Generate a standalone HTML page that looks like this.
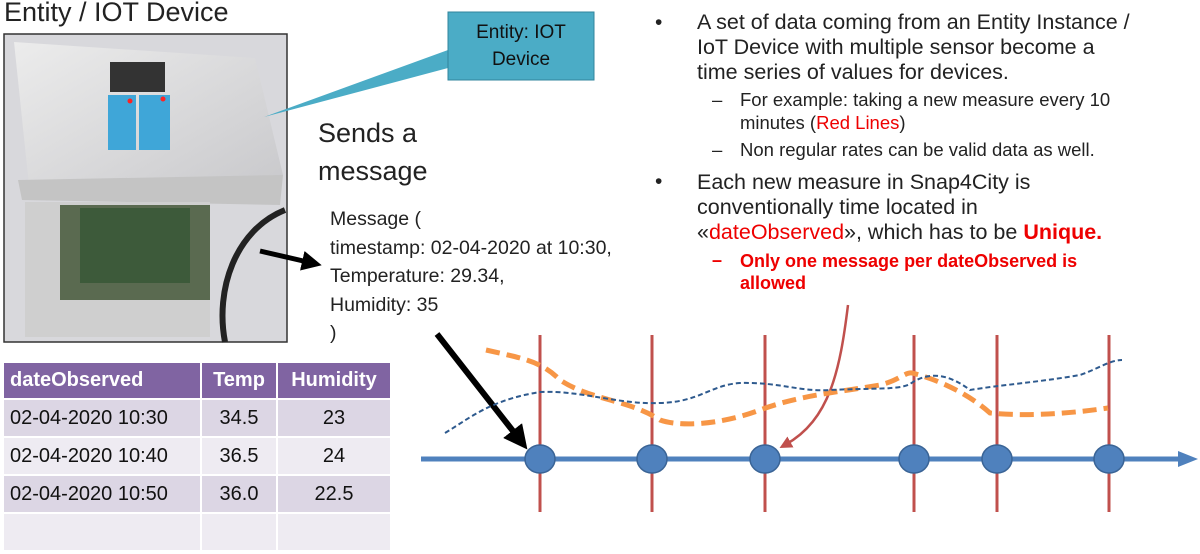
<!DOCTYPE html>
<html><head><style>
body{margin:0;width:1200px;height:554px;background:#fff;overflow:hidden;position:relative;font-family:"Liberation Sans",sans-serif;}
.t{position:absolute;white-space:nowrap;color:#222;}
table{position:absolute;left:2px;top:361px;border-collapse:collapse;font-size:20px;table-layout:fixed;}
td{border:2px solid #fff;height:34px;padding:0 6px;color:#111;box-sizing:border-box;overflow:hidden;white-space:nowrap;}
</style></head><body>
<div class="t" style="left:4px;top:-3px;font-size:27px;">Entity / IOT Device</div>
<svg width="1200" height="554" style="position:absolute;left:0;top:0">
<defs>
<linearGradient id="g" x1="0" y1="0" x2="1" y2="1"><stop offset="0" stop-color="#ececec"/><stop offset="1" stop-color="#c8c8cb"/></linearGradient>
<marker id="ab" markerWidth="4" markerHeight="4" refX="2" refY="2" orient="auto"><path d="M0,0L4,2L0,4z" fill="#000"/></marker>
<marker id="ar" markerWidth="5" markerHeight="5" refX="2.5" refY="2.5" orient="auto"><path d="M0,0L5,2.5L0,5z" fill="#c0504d"/></marker>
</defs>
<rect x="4" y="34" width="283" height="308" fill="#d8d8dc" stroke="#333" stroke-width="1.5"/>
<path d="M14,42 L255,58 L283,175 L30,195 Z" fill="url(#g)"/>
<path d="M18,180 L283,175 L280,205 L22,200Z" fill="#c4c4c4"/>
<rect x="25" y="202" width="185" height="135" fill="#cfcfcf"/>
<rect x="60" y="205" width="150" height="95" fill="#5a6a50"/>
<rect x="80" y="208" width="110" height="75" fill="#3d5a3a"/>
<path d="M285,210 C235,230 215,290 225,342" stroke="#222" stroke-width="6" fill="none"/>
<rect x="108" y="95" width="28" height="55" fill="#3fa6d8"/><rect x="139" y="95" width="31" height="55" fill="#3fa6d8"/>
<rect x="110" y="62" width="55" height="30" fill="#333"/>
<circle cx="130" cy="101" r="2.5" fill="#f22"/><circle cx="163" cy="99" r="2.5" fill="#f22"/>
<polygon points="448,50 448,68 264,117" fill="#4bacc6"/>
<rect x="448" y="12" width="146" height="68" fill="#4bacc6" stroke="#31859c" stroke-width="1"/>
<text x="521" y="38" font-size="19" text-anchor="middle" fill="#111" font-family="Liberation Sans">Entity: IOT</text>
<text x="521" y="65" font-size="19" text-anchor="middle" fill="#111" font-family="Liberation Sans">Device</text>
<line x1="260" y1="251" x2="312" y2="263" stroke="#000" stroke-width="5" marker-end="url(#ab)"/>
<line x1="437" y1="334" x2="520" y2="440" stroke="#000" stroke-width="6" marker-end="url(#ab)"/>
<g stroke="#c0504d" stroke-width="3">
<line x1="540" y1="335" x2="540" y2="512"/><line x1="652" y1="335" x2="652" y2="512"/><line x1="765" y1="335" x2="765" y2="512"/><line x1="914" y1="335" x2="914" y2="512"/><line x1="997" y1="335" x2="997" y2="512"/><line x1="1109" y1="335" x2="1109" y2="512"/>
</g>
<path d="M848,305 C840,370 830,420 785,445" stroke="#c0504d" stroke-width="2.5" fill="none" marker-end="url(#ar)"/>
<path d="M486,350 C520,358 540,360 560,380 C590,400 630,400 660,420 C680,427 720,425 760,410 C800,395 840,392 880,385 C900,380 905,372 912,373 C940,380 970,395 990,413 C1020,416 1060,415 1108,408" stroke="#f79646" stroke-width="5" stroke-dasharray="14,7" fill="none"/>
<path d="M445,433 C470,418 490,400 540,392 C580,390 620,405 660,403 C700,402 710,385 740,383 C780,382 800,392 830,390 C870,388 900,390 910,384 C930,370 950,375 970,390 C1000,385 1040,382 1080,375 C1100,368 1110,360 1122,360" stroke="#2e5a8e" stroke-width="2" stroke-dasharray="5,3" fill="none"/>
<line x1="421" y1="459" x2="1180" y2="459" stroke="#4f81bd" stroke-width="5"/>
<polygon points="1178,451 1198,459 1178,467" fill="#4f81bd"/>
<g fill="#4f81bd" stroke="#3a6496" stroke-width="1.5">
<ellipse cx="540" cy="459" rx="15" ry="14"/><ellipse cx="652" cy="459" rx="15" ry="14"/><ellipse cx="765" cy="459" rx="15" ry="14"/><ellipse cx="914" cy="459" rx="15" ry="14"/><ellipse cx="997" cy="459" rx="15" ry="14"/><ellipse cx="1109" cy="459" rx="15" ry="14"/>
</g>
</svg>
<div class="t" style="left:318px;top:114px;font-size:27px;line-height:38px;">Sends a<br>message</div>
<div class="t" style="left:330px;top:205px;font-size:19.5px;line-height:28.5px;">Message (<br>timestamp: 02-04-2020 at 10:30,<br>Temperature: 29.34,<br>Humidity: 35<br>)</div>
<table>
<colgroup><col style="width:198px"><col style="width:76px"><col style="width:114px"></colgroup>
<tr style="background:#8064a2;font-weight:bold;"><td style="color:#fff;height:37px">dateObserved</td><td style="text-align:center;color:#fff">Temp</td><td style="text-align:center;color:#fff">Humidity</td></tr>
<tr style="background:#dcd6e4"><td style="height:38px">02-04-2020 10:30</td><td style="text-align:center">34.5</td><td style="text-align:center">23</td></tr>
<tr style="background:#eeebf2"><td style="height:38px">02-04-2020 10:40</td><td style="text-align:center">36.5</td><td style="text-align:center">24</td></tr>
<tr style="background:#dcd6e4"><td style="height:38px">02-04-2020 10:50</td><td style="text-align:center">36.0</td><td style="text-align:center">22.5</td></tr>
<tr style="background:#eeebf2"><td style="height:38px"></td><td></td><td></td></tr>
</table>
<div class="t" style="left:655px;top:10px;font-size:21px;line-height:25px;">•</div>
<div class="t" style="left:697px;top:10px;font-size:21.5px;line-height:25px;">A set of data coming from an Entity Instance /<br>IoT Device with multiple sensor become a<br>time series of values for devices.</div>
<div class="t" style="left:712px;top:88px;font-size:18.5px;line-height:23px;">–</div>
<div class="t" style="left:740px;top:88px;font-size:18.5px;line-height:23px;">For example: taking a new measure every 10<br>minutes (<span style="color:#e00">Red Lines</span>)</div>
<div class="t" style="left:712px;top:139px;font-size:18.5px;">–</div>
<div class="t" style="left:740px;top:139px;font-size:18.5px;">Non regular rates can be valid data as well.</div>
<div class="t" style="left:655px;top:170px;font-size:21px;">•</div>
<div class="t" style="left:697px;top:170px;font-size:21.5px;line-height:25px;">Each new measure in Snap4City is<br>conventionally time located in<br>«<span style="color:#e00">dateObserved</span>», which has to be <b style="color:#e00">Unique.</b></div>
<div class="t" style="left:712px;top:250px;font-size:18px;color:#e00;font-weight:bold;">–</div>
<div class="t" style="left:740px;top:250px;font-size:18px;line-height:22px;color:#e00;font-weight:bold;">Only one message per dateObserved is<br>allowed</div>
</body></html>
